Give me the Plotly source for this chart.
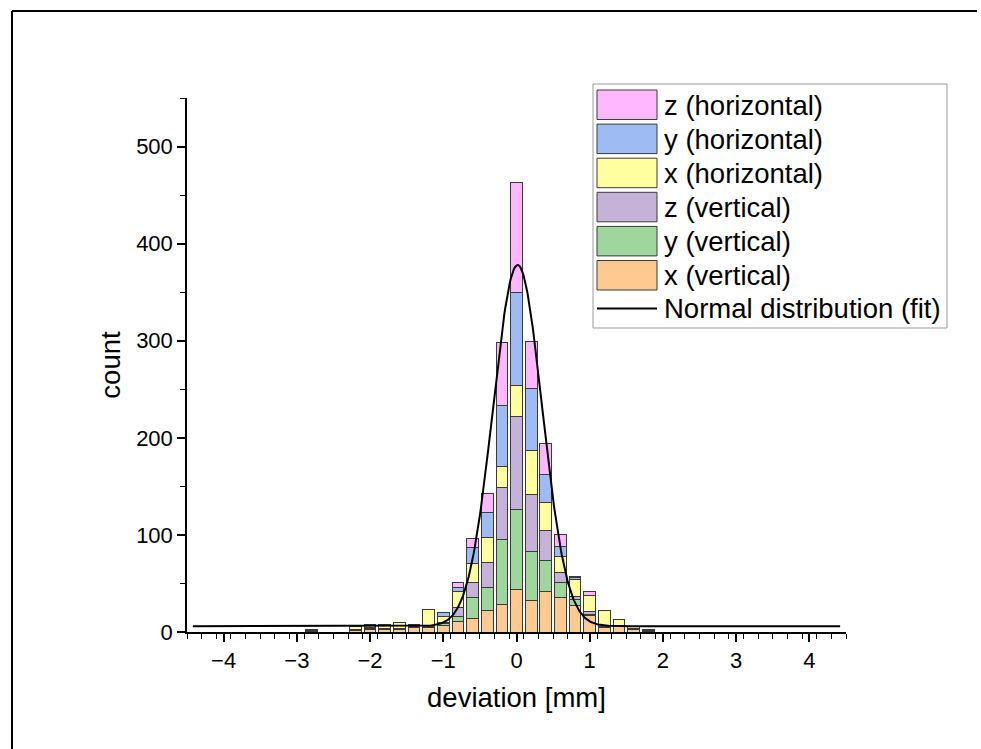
import numpy as np
import plotly.graph_objects as go

# ---------------- data ----------------
bin_centers = [-2.8, -2.2, -2.0, -1.8, -1.6, -1.4, -1.2, -1.0, -0.8, -0.6, -0.4, -0.2,
               0.0, 0.2, 0.4, 0.6, 0.8, 1.0, 1.2, 1.4, 1.6, 1.8]
x_vertical   = [1, 2, 3, 3, 3, 5, 5, 7, 11, 14, 22, 28, 44, 32, 42, 36, 27, 17, 5, 7, 3, 1]
y_vertical   = [1, 1, 1, 1, 1, 1, 1, 2, 5, 22, 24, 67, 82, 51, 32, 15, 6, 1, 1, 0, 0, 1]
z_vertical   = [1, 0, 1, 0, 0, 1, 1, 1, 9, 15, 26, 54, 96, 59, 31, 10, 4, 3, 0, 0, 1, 0]
x_horizontal = [0, 3, 3, 4, 6, 1, 16, 6, 17, 20, 25, 21, 32, 45, 28, 17, 17, 17, 16, 6, 2, 1]
y_horizontal = [0, 0, 0, 0, 0, 0, 0, 4, 4, 16, 26, 63, 96, 64, 29, 10, 2, 0, 0, 0, 0, 0]
z_horizontal = [0, 0, 0, 0, 0, 0, 0, 0, 5, 9, 20, 65, 113, 48, 32, 12, 1, 4, 0, 0, 0, 0]

series_names = ["x (vertical)", "y (vertical)", "z (vertical)",
                "x (horizontal)", "y (horizontal)", "z (horizontal)"]
series_values = [x_vertical, y_vertical, z_vertical, x_horizontal, y_horizontal, z_horizontal]
series_colors = ["#FFCA92", "#9ED69E", "#C4B2D8", "#FFFFA0", "#9EBCF3", "#FFB8FF"]

fit_name = "Normal distribution (fit)"
fit_offset = 6.0
fit_amplitude = 372.0
fit_center = 0.015
fit_sigma = 0.335
fit_xmin, fit_xmax = -4.42, 4.42

x_tick_values = [-4, -3, -2, -1, 0, 1, 2, 3, 4]
x_tick_labels = ["\u22124", "\u22123", "\u22122", "\u22121", "0", "1", "2", "3", "4"]
y_tick_values = [0, 100, 200, 300, 400, 500]

# ---------------- layout geometry ----------------
W, H = 981, 749
L, R, T, B = 187, 135, 98, 117
PW, PH = W - L - R, H - T - B


def px(x):
    return (x - L) / PW


def py(y):
    return (H - B - y) / PH


FONT = "Liberation Sans, Arial, sans-serif"

fig = go.Figure()
for name, vals, col in zip(series_names, series_values, series_colors):
    fig.add_trace(go.Bar(
        x=bin_centers, y=vals, name=name, width=0.16,
        marker=dict(color=col, line=dict(color="#3a3a3a", width=1)),
        showlegend=False,
    ))

xs = np.linspace(fit_xmin, fit_xmax, 801)
ys = fit_offset + fit_amplitude * np.exp(-(xs - fit_center) ** 2 / (2 * fit_sigma ** 2))
fig.add_trace(go.Scatter(x=xs, y=ys, mode="lines", name=fit_name,
                         line=dict(color="black", width=2), showlegend=False))

# ---------------- custom legend (big swatches as in the reference) ----------------
shapes = []
annotations = []
shapes.append(dict(type="rect", xref="paper", yref="paper",
                   x0=px(593), x1=px(947), y0=py(328), y1=py(84),
                   line=dict(color="#9a9a9a", width=1), fillcolor="white", layer="above"))
legend_order = list(range(len(series_names)))[::-1]
row_h = 34.1
LEG_SIZE = 27.5
for i, k in enumerate(legend_order):
    top = 90 + i * row_h
    shapes.append(dict(type="rect", xref="paper", yref="paper",
                       x0=px(597), x1=px(657), y0=py(top + 29.5), y1=py(top),
                       line=dict(color="#3a3a3a", width=1), fillcolor=series_colors[k],
                       layer="above"))
    annotations.append(dict(xref="paper", yref="paper", x=px(662), y=py(top + 15),
                            xanchor="left", yanchor="middle", showarrow=False,
                            text=series_names[k],
                            font=dict(family=FONT, size=LEG_SIZE, color="black")))
ly = 90 + 6 * row_h + 14
shapes.append(dict(type="line", xref="paper", yref="paper",
                   x0=px(597), x1=px(657), y0=py(ly), y1=py(ly),
                   line=dict(color="black", width=2), layer="above"))
annotations.append(dict(xref="paper", yref="paper", x=px(662), y=py(ly),
                        xanchor="left", yanchor="middle", showarrow=False,
                        text=fit_name, font=dict(family=FONT, size=LEG_SIZE, color="black")))

# ---------------- outer frame of the picture ----------------
frame = dict(color="black", width=2)
shapes.append(dict(type="line", xref="paper", yref="paper", x0=px(12), x1=px(977),
                   y0=py(11), y1=py(11), line=frame))
shapes.append(dict(type="line", xref="paper", yref="paper", x0=px(12), x1=px(12),
                   y0=py(11), y1=py(760), line=frame))

fig.update_layout(
    width=W, height=H,
    margin=dict(l=L, r=R, t=T, b=B, pad=0),
    paper_bgcolor="white", plot_bgcolor="white",
    barmode="stack",
    font=dict(family=FONT, color="black"),
    shapes=shapes, annotations=annotations,
    xaxis=dict(range=[-4.5, 4.5], showgrid=False, zeroline=False,
               showline=True, linecolor="black", linewidth=1.5,
               tickmode="array", tickvals=x_tick_values, ticktext=x_tick_labels,
               ticks="outside", ticklen=8, tickwidth=1.5, tickcolor="black",
               tickfont=dict(size=22, family=FONT),
               minor=dict(tick0=0.1, dtick=0.2, ticks="outside", ticklen=5,
                          tickwidth=1, tickcolor="black", showgrid=False),
               title=dict(text="deviation [mm]", font=dict(size=27.5, family=FONT), standoff=16)),
    yaxis=dict(range=[0, 550], showgrid=False, zeroline=False,
               showline=True, linecolor="black", linewidth=1.5,
               tickmode="array", tickvals=y_tick_values,
               ticks="outside", ticklen=8, tickwidth=1.5, tickcolor="black",
               tickfont=dict(size=22, family=FONT),
               minor=dict(tick0=0, dtick=50, ticks="outside", ticklen=5,
                          tickwidth=1, tickcolor="black", showgrid=False),
               title=dict(text="count", font=dict(size=27.5, family=FONT), standoff=8)),
)

fig.write_html("out.html", config={"displayModeBar": False},
               post_script="document.body.style.margin='0';document.body.style.overflow='hidden';")
